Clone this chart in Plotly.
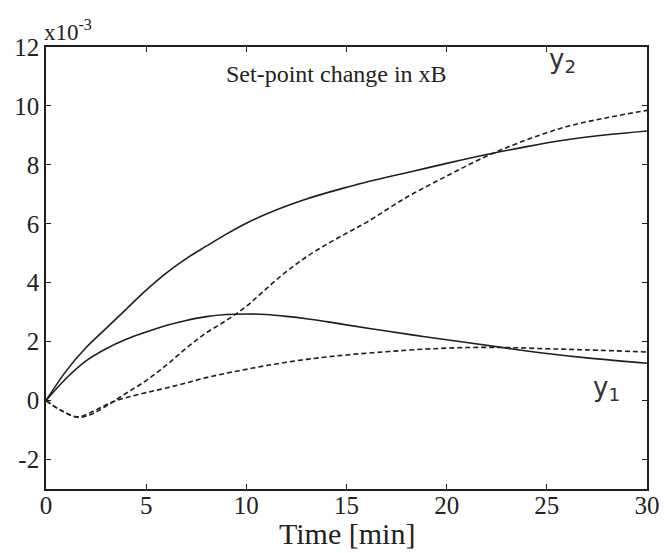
import plotly.graph_objects as go

# Time samples [min] and responses (units of 1e-3)
t_y2_solid = [0, 1, 2, 3, 4, 5, 6, 7, 8, 9, 10, 11, 12, 13, 14, 15, 16, 17, 18, 20, 22, 24, 26, 28, 30]
y2_solid = [0, 1.0, 1.8, 2.45, 3.1, 3.75, 4.33, 4.82, 5.24, 5.65, 6.02, 6.33, 6.6, 6.84, 7.05,
            7.24, 7.42, 7.58, 7.73, 8.05, 8.35, 8.62, 8.85, 9.02, 9.15]

t_y2_dash = [0, 0.8, 1.6, 2.4, 3.2, 4, 5, 6, 7, 8, 9, 10, 11, 12, 13, 14, 15, 16, 18, 20, 22, 24, 26, 28, 30]
y2_dash = [0, -0.35, -0.57, -0.42, -0.1, 0.25, 0.68, 1.2, 1.78, 2.3, 2.72, 3.2, 3.8, 4.38, 4.88,
           5.3, 5.68, 6.05, 6.9, 7.62, 8.3, 8.85, 9.3, 9.6, 9.85]

t_y1_solid = [0, 1, 2, 3, 4, 5, 6, 7, 8, 9, 10, 11, 12, 13, 14, 15, 17, 19, 21, 23, 25, 27, 30]
y1_solid = [0, 0.75, 1.35, 1.76, 2.08, 2.33, 2.55, 2.72, 2.85, 2.92, 2.94, 2.92, 2.86, 2.78, 2.68,
            2.57, 2.36, 2.16, 1.97, 1.78, 1.6, 1.45, 1.27]

t_y1_dash = [0, 0.8, 1.6, 2.4, 3.2, 4, 5, 6, 7, 8, 9, 10, 11, 12, 13, 14, 15, 17, 19, 21, 23, 25, 27, 30]
y1_dash = [0, -0.35, -0.55, -0.35, -0.08, 0.1, 0.27, 0.43, 0.6, 0.78, 0.93, 1.06, 1.19, 1.3, 1.4,
           1.48, 1.55, 1.66, 1.75, 1.8, 1.8, 1.76, 1.72, 1.65]

x_ticks = [0, 5, 10, 15, 20, 25, 30]
y_ticks = [-2, 0, 2, 4, 6, 8, 10, 12]
y_tick_text = ["-2", "0", "2", "4", "6", "8", "10", "12"]

LINE = "#1e1e1e"
TEXT = "#222222"
SERIF = "Liberation Serif, Times New Roman, serif"

fig = go.Figure()
for tx, ty, dash in [
    (t_y2_solid, y2_solid, "solid"),
    (t_y2_dash, y2_dash, "5px,3px"),
    (t_y1_solid, y1_solid, "solid"),
    (t_y1_dash, y1_dash, "5px,3px"),
]:
    fig.add_trace(go.Scatter(
        x=tx, y=ty, mode="lines",
        line=dict(color=LINE, width=1.6, dash=dash, shape="spline", smoothing=1.0),
        showlegend=False, hoverinfo="skip",
    ))

axis_common = dict(
    showline=True, linecolor=LINE, linewidth=1.6, mirror="ticks",
    ticks="inside", ticklen=5, tickwidth=1.2, tickcolor=LINE,
    showgrid=False, zeroline=False,
    tickfont=dict(family=SERIF, size=25, color=TEXT),
)

fig.update_layout(
    width=672, height=553,
    margin=dict(l=46, r=14, t=47, b=64),
    paper_bgcolor="white", plot_bgcolor="white",
    xaxis=dict(range=[0, 30], tickvals=x_ticks, ticklabelstandoff=-7, **axis_common),
    yaxis=dict(range=[-3, 12], tickvals=y_ticks, ticktext=y_tick_text, **axis_common),
    annotations=[
        dict(text="Time [min]", xref="paper", yref="paper", x=0.5, y=-0.1,
             xanchor="center", yanchor="middle", showarrow=False,
             font=dict(family=SERIF, size=30, color=TEXT)),
        dict(text="x10<sup>-3</sup>", xref="paper", yref="paper", x=-0.006, y=1.0,
             xanchor="left", yanchor="bottom", showarrow=False,
             font=dict(family=SERIF, size=23, color=TEXT)),
        dict(text="Set-point change in xB", xref="x", yref="y", x=8.9, y=11.07,
             xanchor="left", yanchor="middle", showarrow=False,
             font=dict(family=SERIF, size=24, color=TEXT)),
        dict(text="y<sub>2</sub>", xref="x", yref="y", x=25.8, y=11.55,
             xanchor="center", yanchor="middle", showarrow=False,
             font=dict(family="DejaVu Sans", size=26, color="#333")),
        dict(text="y<sub>1</sub>", xref="x", yref="y", x=28.0, y=0.4,
             xanchor="center", yanchor="middle", showarrow=False,
             font=dict(family="DejaVu Sans", size=26, color="#333")),
    ],
)

fig.write_html("out.html")
